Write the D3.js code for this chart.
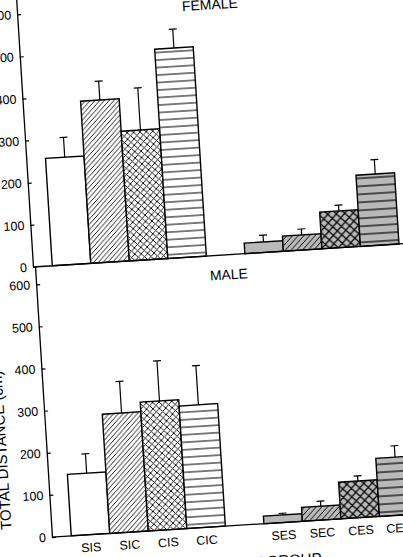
<!DOCTYPE html>
<html>
<head>
<meta charset="utf-8">
<script src="https://cdn.jsdelivr.net/npm/d3@7"></script>
<style>
  body { margin: 0; background: #fff; }
  svg { display: block; font-family: "Liberation Sans", Arial, sans-serif; }
</style>
</head>
<body>
<div id="chart"></div>
<script>
// data (mean and SE per group)
const groups = ['SIS', 'SIC', 'CIS', 'CIC', 'SES', 'SEC', 'CES', 'CEC'];
const slots = ['SIS', 'SIC', 'CIS', 'CIC', 'gap', 'SES', 'SEC', 'CES', 'CEC'];
const femaleMean = [255, 385, 308, 497, 25, 36, 87, 169];
const femaleSE = [47, 45, 100, 45, 16, 14, 14, 34];
const maleMean = [146, 283, 306, 291, 18, 33, 87, 138];
const maleSE = [46, 75, 95, 93, 4, 12, 12, 27];
const yTicks = [0, 100, 200, 300, 400, 500, 600];
const fills = ['open', 'diag', 'cross', 'horiz', 'grey', 'diagG', 'crossG', 'horizG'];

const w = 403;
const h = 557;
const tilt = -3.6; // the scan is slightly rotated
const origin = { x: 33, y: 267 };
const plotW = 386;
const plotH = 270;
const grey = '#b9b9b9';

const svg = d3.select('#chart').append('svg').attr('width', w).attr('height', h);
const defs = svg.append('defs');

// hatch patterns
function pattern(id, pw, ph, bg, d, sw) {
  const p = defs
    .append('pattern')
    .attr('id', id)
    .attr('patternUnits', 'userSpaceOnUse')
    .attr('width', pw)
    .attr('height', ph);
  p.append('rect').attr('width', pw).attr('height', ph).attr('fill', bg);
  if (d) p.append('path').attr('d', d).attr('stroke', '#000').attr('stroke-width', sw).attr('fill', 'none');
}
const diag = s => `M-1,1 l2,-2 M0,${s} l${s},-${s} M${s - 1},${s + 1} l2,-2`;
const cross = s => diag(s) + ` M-1,${s - 1} l2,2 M0,0 l${s},${s} M${s - 1},-1 l2,2`;

pattern('open', 10, 10, '#fff', null, 0);
pattern('grey', 10, 10, grey, null, 0);
pattern('diag', 5, 5, '#fff', diag(5), 0.9);
pattern('cross', 6.4, 6.4, '#fff', cross(6.4), 0.9);
pattern('horiz', 10, 7.5, '#fff', 'M0,3.75 h10', 1);
pattern('diagG', 6, 6, grey, diag(6), 1);
pattern('crossG', 8.5, 8.5, grey, cross(8.5), 1.2);
pattern('horizG', 10, 8, grey, 'M0,4 h10', 1.2);

const x = d3.scaleBand().domain(slots).range([0, plotW]).paddingInner(0).paddingOuter(0.5);
const y = d3.scaleLinear().domain([0, 640]).range([0, -plotH]);

const root = svg.append('g').attr('transform', `translate(${origin.x},${origin.y}) rotate(${tilt})`);

function drawPanel(g, means, ses, title, labels) {
  const data = groups.map((k, i) => ({ key: k, mean: means[i], se: ses[i], fill: fills[i] }));

  // error bars (upper only)
  const err = g.selectAll('.err').data(data).enter().append('g').attr('class', 'err');
  err
    .append('line')
    .attr('x1', d => x(d.key) + x.bandwidth() / 2)
    .attr('x2', d => x(d.key) + x.bandwidth() / 2)
    .attr('y1', d => y(d.mean))
    .attr('y2', d => y(d.mean + d.se))
    .attr('stroke', '#000')
    .attr('stroke-width', 1.2);
  err
    .append('line')
    .attr('x1', d => x(d.key) + x.bandwidth() / 2 - 4)
    .attr('x2', d => x(d.key) + x.bandwidth() / 2 + 4)
    .attr('y1', d => y(d.mean + d.se))
    .attr('y2', d => y(d.mean + d.se))
    .attr('stroke', '#000')
    .attr('stroke-width', 1.2);

  g.selectAll('.bar')
    .data(data)
    .enter()
    .append('rect')
    .attr('class', 'bar')
    .attr('x', d => x(d.key))
    .attr('y', d => y(d.mean))
    .attr('width', x.bandwidth())
    .attr('height', d => y(0) - y(d.mean))
    .attr('fill', d => `url(#${d.fill})`)
    .attr('stroke', '#000')
    .attr('stroke-width', 1.4);

  // axes
  const ax = g
    .append('g')
    .call(d3.axisLeft(y).tickValues(yTicks).tickSizeInner(-4).tickSizeOuter(0).tickPadding(6))
    .attr('font-size', 12.5)
    .attr('font-family', '"Liberation Sans", Arial, sans-serif');
  ax.select('.domain').attr('stroke-width', 1.3);
  ax.selectAll('.tick line').attr('stroke-width', 1.2);

  g.append('line')
    .attr('x1', 0)
    .attr('x2', plotW)
    .attr('y1', y(0))
    .attr('y2', y(0))
    .attr('stroke', '#000')
    .attr('stroke-width', 1.3);

  g.append('text')
    .attr('x', plotW / 2)
    .attr('y', -246)
    .attr('text-anchor', 'middle')
    .attr('font-size', 14)
    .text(title);

  if (labels) {
    g.selectAll('.xlab')
      .data(groups)
      .enter()
      .append('text')
      .attr('x', d => x(d) + x.bandwidth() / 2)
      .attr('y', 17)
      .attr('text-anchor', 'middle')
      .attr('font-size', 12.5)
      .text(d => d);
  }
}

const femalePanel = root.append('g');
drawPanel(femalePanel, femaleMean, femaleSE, 'FEMALE', false);

const malePanel = root.append('g').attr('transform', 'translate(2,270.7)');
drawPanel(malePanel, maleMean, maleSE, 'MALE', true);

malePanel
  .append('text')
  .attr('x', plotW / 2)
  .attr('y', 43)
  .attr('text-anchor', 'middle')
  .attr('font-size', 15)
  .text('TREATMENT GROUP');

malePanel
  .append('text')
  .attr('transform', 'translate(-40,-10) rotate(-90)')
  .attr('text-anchor', 'start')
  .attr('font-size', 15)
  .text('TOTAL DISTANCE (cm)');
</script>
</body>
</html>
